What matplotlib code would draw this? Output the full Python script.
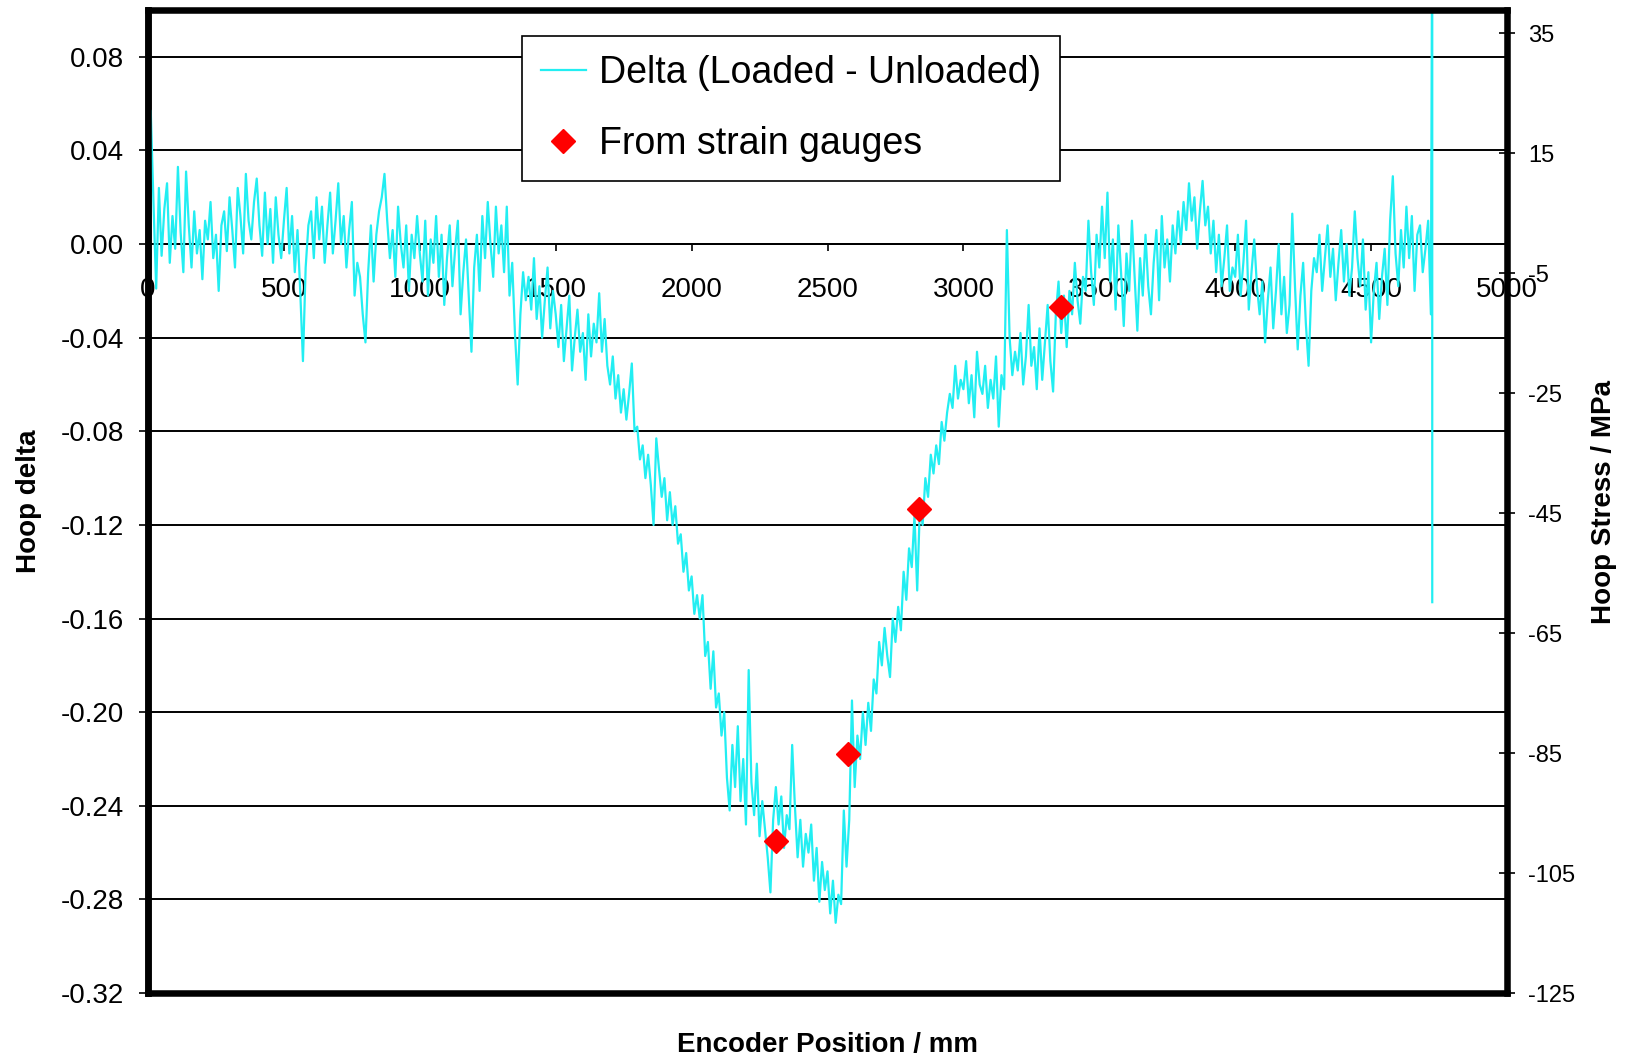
import matplotlib
matplotlib.use('Agg')
import matplotlib.pyplot as plt
import numpy as np
from matplotlib.ticker import FormatStrFormatter

plt.rcParams['font.family'] = ['Liberation Sans', 'DejaVu Sans']
plt.rcParams['axes.unicode_minus'] = False

# Encoder positions (mm), one reading every 10 mm
position = np.arange(0, 4730, 10)

# Hoop delta (loaded - unloaded), in thousandths
delta_milli = [
    0, 57, 18, -19, 24, -5, 15, 26, -8, 12,                 # 0
    -2, 33, 5, -12, 31, 8, -10, 14, -4, 6,                  # 100
    -15, 10, 2, 18, -6, 4, -20, 8, 14, -3,                  # 200
    20, 6, -10, 24, 12, -4, 30, 10, 2, 18,                  # 300
    28, 8, -5, 22, 0, 15, -8, 20, 4, -6,                    # 400
    10, 24, -4, 12, -12, 6, -20, -50, -10, 8,               # 500
    14, -6, 20, 2, 16, -8, 8, 22, -4, 10,                   # 600
    26, 0, 12, -10, 6, 18, -22, -8, -14, -30,               # 700
    -42, -12, 8, -16, 4, 14, 20, 30, 10, -6,                # 800
    6, -14, 16, 0, -10, 8, -20, 4, -6, 12,                  # 900
    -4, -16, 10, -22, 2, -8, 12, -14, 4, -26,               # 1000
    -6, 8, -18, -2, 10, -30, -12, 2, -22, -46,              # 1100
    -10, 4, -20, 12, -6, 18, 0, -14, 16, -4,                # 1200
    8, -12, 16, -22, -8, -38, -60, -30, -12, -24,           # 1300
    -14, -28, -6, -32, -18, -40, -24, -10, -36, -20,        # 1400
    -30, -44, -26, -50, -36, -22, -54, -40, -28, -46,       # 1500
    -38, -58, -30, -48, -34, -42, -21, -46, -32, -52,       # 1600
    -60, -48, -66, -56, -72, -62, -75, -64, -51, -80,       # 1700
    -78, -92, -86, -100, -90, -103, -120, -83, -96, -108,   # 1800
    -100, -118, -106, -120, -112, -128, -124, -140, -132, -148,  # 1900
    -142, -158, -150, -160, -150, -176, -170, -190, -174, -198,  # 2000
    -192, -210, -200, -228, -242, -214, -232, -206, -238, -220,  # 2100
    -248, -182, -230, -244, -222, -253, -238, -250, -262, -277,  # 2200
    -246, -232, -248, -236, -258, -244, -250, -214, -240, -262,  # 2300
    -246, -266, -252, -260, -248, -272, -258, -281, -264, -276,  # 2400
    -268, -286, -272, -290, -278, -282, -242, -266, -246, -195,  # 2500
    -232, -210, -220, -200, -214, -196, -208, -186, -192, -170,  # 2600
    -180, -164, -176, -185, -160, -170, -155, -165, -140, -152,  # 2700
    -130, -138, -116, -148, -112, -120, -100, -108, -90, -98,    # 2800
    -86, -94, -76, -84, -72, -64, -70, -52, -66, -58,       # 2900
    -62, -50, -68, -56, -74, -46, -60, -64, -52, -70,       # 3000
    -58, -66, -48, -78, -56, -62, 6, -40, -56, -46,         # 3100
    -54, -38, -60, -48, -26, -52, -44, -62, -36, -58,       # 3200
    -42, -26, -50, -63, -30, -16, -38, -22, -44, -20,       # 3300
    -30, -8, -24, -34, -14, -20, 10, -12, -26, 4,           # 3400
    -10, 16, -6, 22, -16, 2, -28, 8, -12, -35,              # 3500
    -4, -20, 10, -14, -37, -6, -22, 4, -18, -30,            # 3600
    -8, 6, -24, 12, -10, 2, -16, 8, -4, 14,                 # 3700
    0, 18, 6, 26, 10, 20, -2, 14, 27, 8,                    # 3800
    16, -4, 10, -12, 4, -18, -6, 8, -20, -10,               # 3900
    -14, 4, -22, -8, 10, -28, -12, 2, -18, -30,             # 4000
    -16, -42, -24, -10, -36, -20, 0, -30, -14, -38,         # 4100
    -26, 13, -18, -45, -22, -8, -34, -52, -20, -6,          # 4200
    -12, 4, -20, -6, 8, -14, -2, -24, -8, 6,                # 4300
    -16, 0, -22, -10, 14, -6, -18, 2, -28, -12,             # 4400
    -42, -20, -8, -32, -14, -2, -26, 10, 29, -4,            # 4500
    -18, 6, -10, 16, -6, 12, -20, 4, 8, -12,                # 4600
    -2, 10, -30,                                            # 4700
]

# glitch at the end of the scan
glitch_pos = [4725, 4725]
glitch_delta = [0.15, -0.153]

# strain gauge readings
gauge_pos = [2310, 2575, 2835, 3360]
gauge_delta = [-0.255, -0.218, -0.113, -0.027]

pos_ticks = [0, 500, 1000, 1500, 2000, 2500, 3000, 3500, 4000, 4500, 5000]
delta_ticks = [0.08, 0.04, 0.00, -0.04, -0.08, -0.12, -0.16, -0.20, -0.24, -0.28, -0.32]
stress_ticks = [35, 15, -5, -25, -45, -65, -85, -105, -125]

x_line = np.concatenate([position, glitch_pos])
y_line = np.concatenate([np.array(delta_milli) / 1000.0, glitch_delta])

fig = plt.figure(figsize=(16.32, 10.59), dpi=100)
ax = fig.add_axes([0.0907, 0.0623, 0.8327, 0.9282])

ax.plot(x_line, y_line, color='#22EEF2', lw=1.6, label='Delta (Loaded - Unloaded)', zorder=3)
ax.plot(gauge_pos, gauge_delta, 'D', color='red', ms=12, linestyle='none',
        label='From strain gauges', zorder=4)

ax.set_xlim(0, 5000)
ax.set_ylim(-0.32, 0.10)
ax.set_xticks(pos_ticks)
ax.set_yticks(delta_ticks)
ax.yaxis.set_major_formatter(FormatStrFormatter('%.2f'))
ax.yaxis.grid(True, color='black', lw=1.4)
ax.set_axisbelow(True)

# x axis crosses at zero, Excel style
ax.spines['bottom'].set_position(('data', 0))
ax.spines['bottom'].set_linewidth(1.4)
ax.spines['top'].set_visible(False)
ax.spines['right'].set_visible(False)
ax.spines['left'].set_linewidth(4.7)
ax.tick_params(axis='x', direction='out', length=5, width=1.2, pad=19, labelsize=20)
ax.tick_params(axis='y', direction='out', length=6.5, width=1.2, pad=11, labelsize=20)

ax.set_xlabel('Encoder Position / mm', fontsize=20, fontweight='bold')
ax.xaxis.set_label_coords(0.5, -0.04)
ax.set_ylabel('Hoop delta', fontsize=20, fontweight='bold')
ax.yaxis.set_label_coords(-0.078, 0.5)

ax2 = ax.twinx()
ax2.set_ylim(-125, 38.9)
ax2.set_yticks(stress_ticks)
for s in ax2.spines.values():
    s.set_linewidth(4.7)
    s.set_color('black')
ax2.tick_params(axis='y', direction='inout', length=12, width=1.2, pad=9, labelsize=17)
ax2.set_ylabel('Hoop Stress / MPa', fontsize=20, fontweight='bold')
ax2.yaxis.set_label_coords(1.062, 0.5)

leg = ax.legend(loc='upper left', bbox_to_anchor=(0.2752, 0.9735), fontsize=27,
                frameon=True, fancybox=False, edgecolor='black', framealpha=1,
                borderpad=0.5, handlelength=1.2, handletextpad=0.36,
                labelspacing=0.95, borderaxespad=0, numpoints=1)
leg.get_frame().set_linewidth(1.2)

plt.savefig('out.png', dpi=100)
